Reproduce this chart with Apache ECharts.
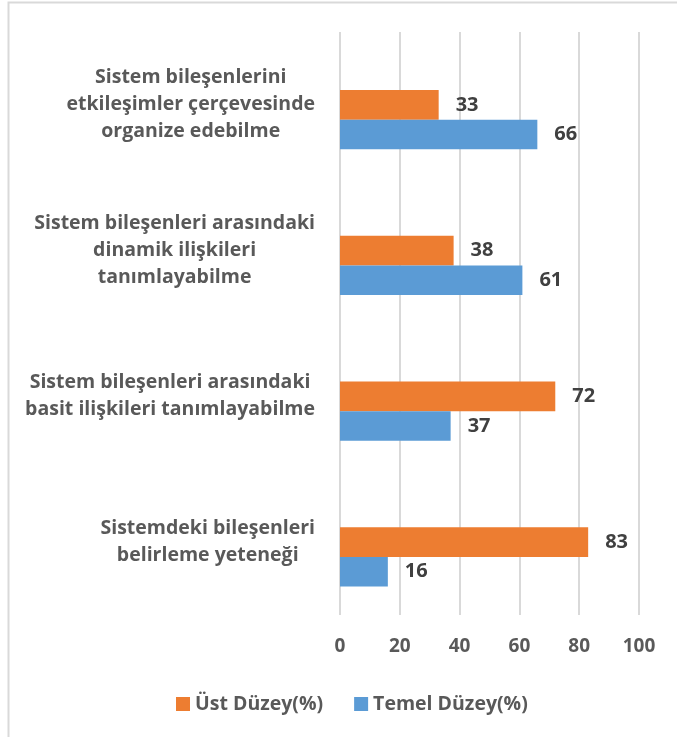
<!DOCTYPE html>
<html>
<head>
    <meta charset="utf-8">
    <script src="https://cdn.jsdelivr.net/npm/echarts@6/dist/echarts.min.js"></script>
</head>
<body style="margin:0;background:#fff;">
    <div id="main" style="width: 677px;height:737px;"></div>
    <script type="text/javascript">
        // kategoriler alttan üste
        var categories = [
            'Sistemdeki bileşenleri\nbelirleme yeteneği',
            'Sistem bileşenleri arasındaki\nbasit ilişkileri tanımlayabilme',
            'Sistem bileşenleri arasındaki\ndinamik ilişkileri\ntanımlayabilme',
            'Sistem bileşenlerini\netkileşimler çerçevesinde\norganize edebilme'
        ];
        var ustDuzey = [83, 72, 38, 33];
        var temelDuzey = [16, 37, 61, 66];
        var bosSeri = [null, null, null, null];
        var xTicks = [0, 20, 40, 60, 80, 100];

        var font = 'Open Sans';
        var myChart = echarts.init(document.getElementById('main'));

        var option = {
            animation: false,
            backgroundColor: '#fff',
            graphic: [{
                type: 'rect',
                shape: { x: 8.5, y: 2.5, width: 700, height: 760 },
                style: { fill: 'none', stroke: '#d9d9d9', lineWidth: 2 },
                silent: true
            }],
            grid: {
                left: 340, right: 38, top: 32, bottom: 122,
                containLabel: false,
                outerBoundsMode: 'none'
            },
            legend: {
                data: ['Üst Düzey(%)', 'Temel Düzey(%)'],
                left: 171, top: 689,
                icon: 'rect',
                itemWidth: 14, itemHeight: 14,
                itemGap: 31,
                textStyle: { fontFamily: font, fontSize: 19.5, fontWeight: 'bold', color: '#595959' }
            },
            xAxis: {
                type: 'value',
                min: 0, max: 100, interval: 20,
                axisLine: { show: false },
                axisTick: { show: false },
                splitLine: { show: true, lineStyle: { color: '#d9d9d9', width: 2 } },
                axisLabel: {
                    margin: 22,
                    fontFamily: font, fontSize: 19, fontWeight: 'bold', color: '#595959',
                    formatter: function (v) { return xTicks.indexOf(v) >= 0 ? String(v) : ''; }
                }
            },
            yAxis: {
                type: 'category',
                data: categories,
                axisTick: { show: false },
                axisLine: { show: false },
                axisLabel: {
                    margin: 25,
                    align: 'right',
                    formatter: function (v) {
                        return v.split('\n').map(function (l) { return '{c|' + l + '}'; }).join('\n');
                    },
                    rich: {
                        c: {
                            align: 'center',
                            fontFamily: font, fontSize: 19.5, fontWeight: 'bold', color: '#595959',
                            lineHeight: 27
                        }
                    }
                }
            },
            series: [
                {
                    name: '',
                    type: 'bar',
                    data: bosSeri,
                    barGap: 0,
                    barCategoryGap: '39%'
                },
                {
                    name: 'Üst Düzey(%)',
                    type: 'bar',
                    data: ustDuzey,
                    itemStyle: { color: '#ED7D31' },
                    barGap: 0,
                    barCategoryGap: '39%',
                    label: {
                        show: true, position: 'right', distance: 17,
                        fontFamily: font, fontSize: 20, fontWeight: 'bold', color: '#404040'
                    }
                },
                {
                    name: 'Temel Düzey(%)',
                    type: 'bar',
                    data: temelDuzey,
                    itemStyle: { color: '#5B9BD5' },
                    barGap: 0,
                    barCategoryGap: '39%',
                    label: {
                        show: true, position: 'right', distance: 17,
                        fontFamily: font, fontSize: 20, fontWeight: 'bold', color: '#404040'
                    }
                }
            ]
        };
        myChart.setOption(option);
    </script>
</body>
</html>
